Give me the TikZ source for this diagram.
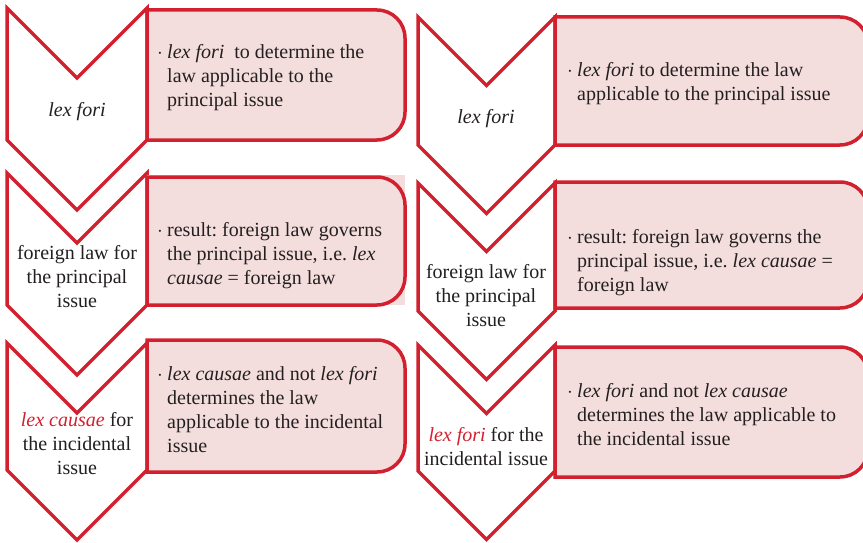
\documentclass[tikz,border=0pt]{standalone}
\usepackage{fontspec}
\setmainfont{Liberation Serif}
\usepackage{tikz}
\usetikzlibrary{positioning}
\frenchspacing

\definecolor{lexred}{HTML}{D3202F}
\definecolor{lexpink}{HTML}{F4DEDD}
\definecolor{lextext}{HTML}{231F20}

% bullet and hanging indent for the box texts
\newcommand{\bul}{\makebox[10pt][l]{$\cdot$}}
\newcommand{\ind}{\hspace*{10pt}}
\newcommand{\lexred}[1]{\textcolor{lexred}{\textit{#1}}}

\begin{document}
\begin{tikzpicture}[x=1pt, y=-1pt,
    chev/.style={draw=lexred, line width=3.5pt, fill=white, line join=miter},
    infobox/.style={draw=lexred, line width=3.5pt, fill=lexpink},
    steplabel/.style={align=center, inner sep=0pt, text=lextext,
      font=\fontsize{20}{24}\selectfont},
    boxtext/.style={anchor=west, align=left, inner sep=0pt, text=lextext,
      font=\fontsize{20}{24}\selectfont}]
\useasboundingbox (0,0) rectangle (863,543);

% chevrons: left x / half width / top / side bottom
\foreach \xl/\hw/\yt/\ys in {7/70/8/140, 7/70/173/305, 7/70/343/470,
                             418/68.5/17/145, 418/68.5/183/311, 418/68.5/345/471}
  \draw[chev] (\xl,\yt) -- ({\xl+\hw},{\yt+\hw}) -- ({\xl+2*\hw},\yt)
    -- ({\xl+2*\hw},\ys) -- ({\xl+\hw},{\ys+\hw}) -- (\xl,\ys) -- cycle;

% boxes, rounded on the right only
\fill[lexpink] (147,175) rectangle (405,305);
\foreach \xl/\xr/\yt/\yb in {147/405/10/140, 147/405/177/305, 147/405/340/472,
                             555/868/17/145, 555/868/182/308, 555/868/347/477}
  \draw[infobox] (\xl,\yt) -- ({\xr-28},\yt) arc[start angle=90, end angle=0, radius=28pt]
    -- (\xr,{\yb-28}) arc[start angle=0, end angle=-90, radius=28pt] -- (\xl,\yb) -- cycle;

% left column
\node[steplabel] (lfori) at (77,112) {\textit{lex fori}};
\node[steplabel] (lforeign) at (77,277) {foreign law for\\the principal\\issue};
\node[steplabel] (lcausae) at (77,444) {\lexred{lex causae} for\\the incidental\\issue};

\node[boxtext] (lbox1) at (157,78)
  {\bul\textit{lex fori}\ \ to determine the\\\ind law applicable to the\\\ind principal issue};
\node[boxtext] (lbox2) at (157,256)
  {\bul result: foreign law governs\\\ind the principal issue, i.e. \textit{lex}\\\ind\textit{causae} = foreign law};
\node[boxtext] (lbox3) at (157,410)
  {\bul\textit{lex causae} and not \textit{lex fori}\\\ind determines the law\\\ind applicable to the incidental\\\ind issue};

% right column
\node[steplabel] (rfori) at (486,119) {\textit{lex fori}};
\node[steplabel] (rforeign) at (486,296) {foreign law for\\the principal\\issue};
\node[steplabel] (rinc) at (486,447) {\lexred{lex fori} for the\\incidental issue};

\node[boxtext] (rbox1) at (567,84)
  {\bul\textit{lex fori} to determine the law\\\ind applicable to the principal issue};
\node[boxtext] (rbox2) at (567,263)
  {\bul result: foreign law governs the\\\ind principal issue, i.e. \textit{lex causae} =\\\ind foreign law};
\node[boxtext] (rbox3) at (567,415)
  {\bul\textit{lex fori} and not \textit{lex causae}\\\ind determines the law applicable to\\\ind the incidental issue};
\end{tikzpicture}
\end{document}
